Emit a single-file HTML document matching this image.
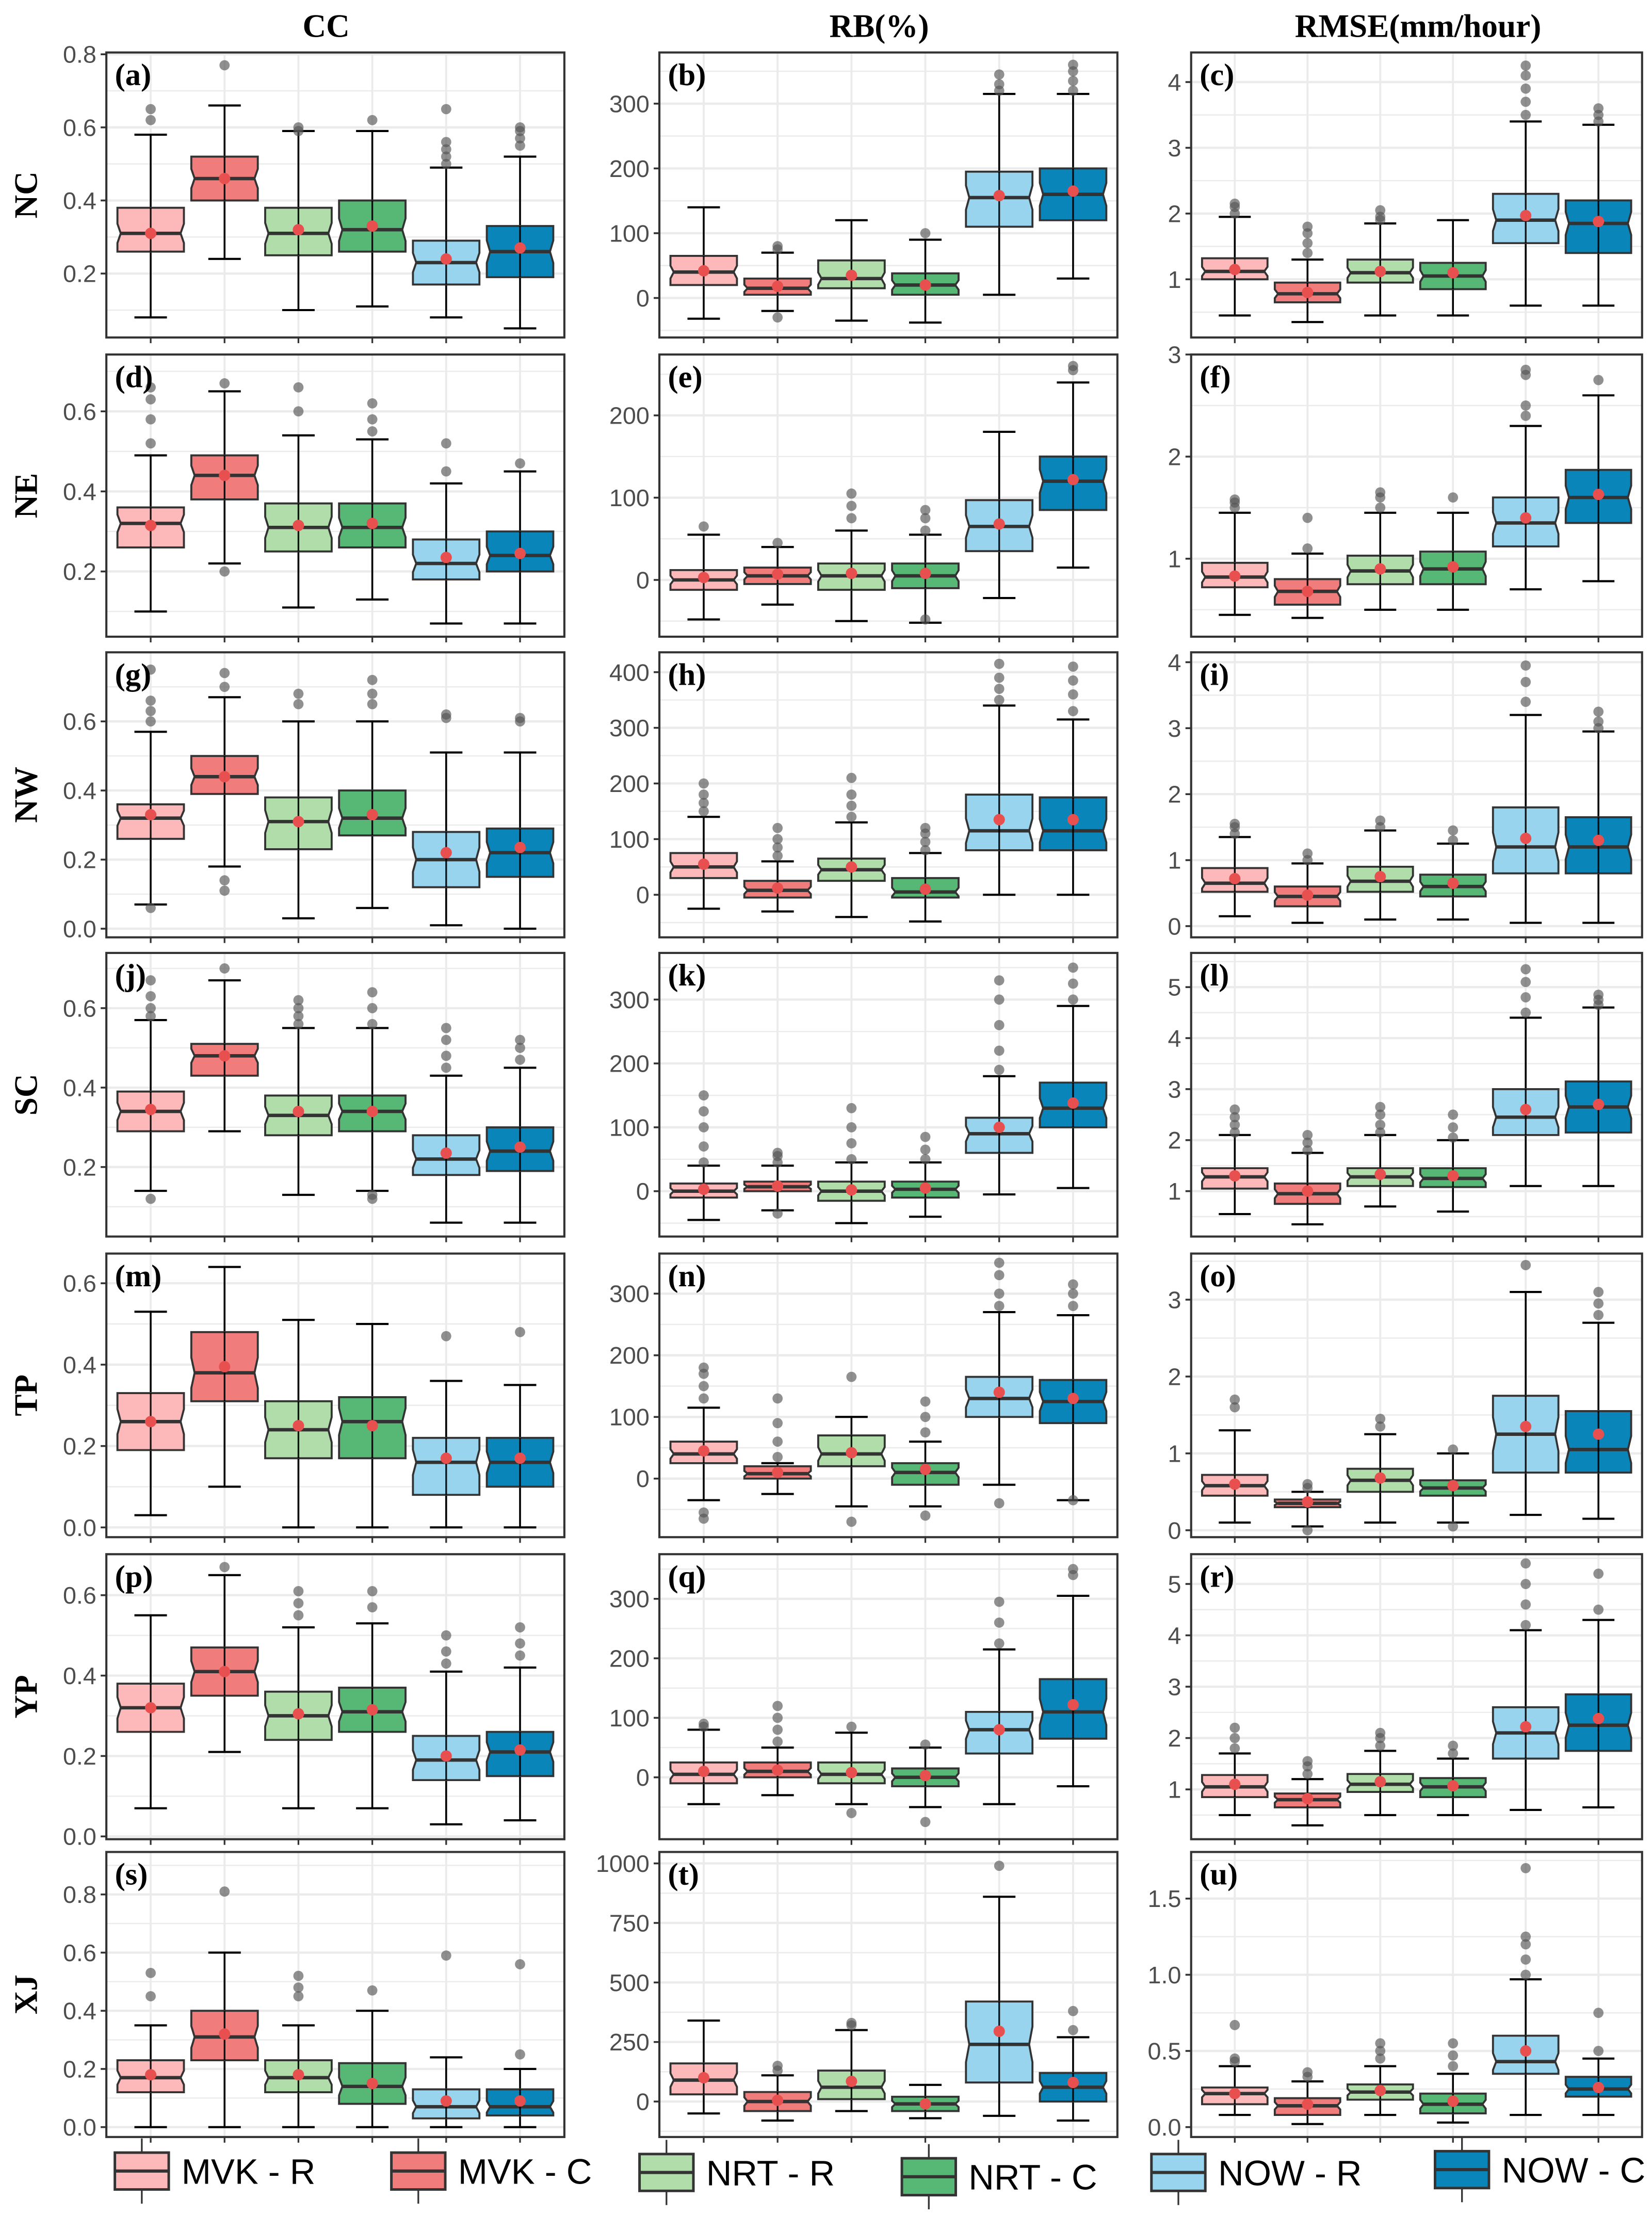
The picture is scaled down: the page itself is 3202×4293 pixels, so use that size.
<!DOCTYPE html>
<html><head><meta charset="utf-8"><style>
html,body{margin:0;padding:0;background:#fff;}
svg{display:block;}
</style></head><body>
<svg id="chart" xmlns="http://www.w3.org/2000/svg" width="3202" height="4293" viewBox="0 0 1165 1562" preserveAspectRatio="none">
<g id="panels"></g>
<g id="legend"></g>
</svg>
<script>
// ---- data ----
const categories = ["MVK - R","MVK - C","NRT - R","NRT - C","NOW - R","NOW - C"];
const colors = ["#FDB9B9","#F07C7C","#B0DDAA","#57B774","#98D4EE","#0A85BA"];
const regions = ["NC","NE","NW","SC","TP","YP","XJ"];
const metrics = ["CC","RB(%)","RMSE(mm/hour)"];
const panelLetters = ["a","b","c","d","e","f","g","h","i","j","k","l","m","n","o","p","q","r","s","t","u"];
// y domains per panel
const yDomains = [
 [0.025,0.805],[-61,379],[0.115,4.45],
 [0.037,0.742],[-69,274],[0.236,3.0],
 [-0.025,0.80],[-76.5,435.7],[-0.17,4.15],
 [0.025,0.739],[-71,373],[0.11,5.67],
 [-0.024,0.673],[-95,365],[-0.09,3.6],
 [-0.007,0.702],[-104,375],[0.03,5.58],
 [-0.034,0.946],[-149,1048],[-0.065,1.806]
];
const tickValues = [
 [0.2,0.4,0.6,0.8],[0,100,200,300],[1,2,3,4],
 [0.2,0.4,0.6],[0,100,200],[1,2,3],
 [0,0.2,0.4,0.6],[0,100,200,300,400],[0,1,2,3,4],
 [0.2,0.4,0.6],[0,100,200,300],[1,2,3,4,5],
 [0,0.2,0.4,0.6],[0,100,200,300],[0,1,2,3],
 [0,0.2,0.4,0.6],[0,100,200,300],[1,2,3,4,5],
 [0,0.2,0.4,0.6,0.8],[0,250,500,750,1000],[0,0.5,1.0,1.5]
];
const tickLabels = [
 ["0.2","0.4","0.6","0.8"],["0","100","200","300"],["1","2","3","4"],
 ["0.2","0.4","0.6"],["0","100","200"],["1","2","3"],
 ["0.0","0.2","0.4","0.6"],["0","100","200","300","400"],["0","1","2","3","4"],
 ["0.2","0.4","0.6"],["0","100","200","300"],["1","2","3","4","5"],
 ["0.0","0.2","0.4","0.6"],["0","100","200","300"],["0","1","2","3"],
 ["0.0","0.2","0.4","0.6"],["0","100","200","300"],["1","2","3","4","5"],
 ["0.0","0.2","0.4","0.6","0.8"],["0","250","500","750","1000"],["0.0","0.5","1.0","1.5"]
];
// [lowWhisker, q1, median, q3, highWhisker, mean] per category
const boxStats = [
 [[0.08,0.26,0.31,0.38,0.58,0.31],[0.24,0.40,0.46,0.52,0.66,0.46],[0.10,0.25,0.31,0.38,0.59,0.32],[0.11,0.26,0.32,0.40,0.59,0.33],[0.08,0.17,0.23,0.29,0.49,0.24],[0.05,0.19,0.26,0.33,0.52,0.27]],
 [[-32,20,40,65,140,42],[-20,5,15,30,70,18],[-35,15,30,58,120,35],[-38,5,20,38,90,20],[5,110,155,195,315,158],[30,120,160,200,315,165]],
 [[0.45,1.0,1.12,1.32,1.95,1.15],[0.35,0.65,0.78,0.95,1.3,0.8],[0.45,0.95,1.1,1.3,1.85,1.12],[0.45,0.85,1.05,1.25,1.9,1.1],[0.6,1.55,1.9,2.3,3.4,1.97],[0.6,1.4,1.85,2.2,3.35,1.88]],
 [[0.1,0.26,0.32,0.36,0.49,0.315],[0.22,0.38,0.44,0.49,0.65,0.44],[0.11,0.25,0.31,0.37,0.54,0.315],[0.13,0.26,0.31,0.37,0.53,0.32],[0.07,0.18,0.22,0.28,0.42,0.235],[0.07,0.2,0.24,0.3,0.45,0.245]],
 [[-48,-12,0,12,55,3],[-30,-5,5,15,40,7],[-50,-12,5,20,60,8],[-52,-10,5,20,55,8],[-22,35,65,97,180,68],[15,85,120,150,240,122]],
 [[0.45,0.72,0.82,0.96,1.45,0.83],[0.42,0.55,0.68,0.8,1.05,0.68],[0.5,0.75,0.88,1.03,1.45,0.9],[0.5,0.75,0.9,1.07,1.45,0.92],[0.7,1.12,1.35,1.6,2.3,1.4],[0.78,1.35,1.6,1.87,2.6,1.63]],
 [[0.07,0.26,0.32,0.36,0.57,0.33],[0.18,0.39,0.44,0.5,0.67,0.44],[0.03,0.23,0.31,0.38,0.6,0.31],[0.06,0.27,0.32,0.4,0.6,0.33],[0.01,0.12,0.2,0.28,0.51,0.22],[0.0,0.15,0.22,0.29,0.51,0.235]],
 [[-25,30,50,75,140,55],[-30,-5,8,25,60,12],[-40,25,45,65,130,50],[-48,-5,5,30,75,10],[0,80,115,180,340,135],[0,80,115,175,315,135]],
 [[0.15,0.52,0.65,0.88,1.35,0.72],[0.05,0.3,0.45,0.6,0.95,0.47],[0.1,0.52,0.68,0.9,1.45,0.75],[0.1,0.45,0.6,0.78,1.25,0.65],[0.05,0.8,1.2,1.8,3.2,1.33],[0.05,0.8,1.2,1.65,2.95,1.3]],
 [[0.14,0.29,0.34,0.39,0.57,0.345],[0.29,0.43,0.48,0.51,0.67,0.48],[0.13,0.28,0.33,0.38,0.55,0.34],[0.14,0.29,0.34,0.38,0.55,0.34],[0.06,0.18,0.22,0.28,0.43,0.235],[0.06,0.19,0.24,0.3,0.45,0.25]],
 [[-45,-10,0,12,40,3],[-30,0,7,15,40,8],[-50,-15,0,15,45,2],[-40,-10,3,15,45,5],[-5,60,90,115,180,100],[5,100,130,170,290,138]],
 [[0.55,1.05,1.28,1.45,2.1,1.3],[0.35,0.75,0.95,1.15,1.75,1.0],[0.7,1.1,1.28,1.45,2.1,1.33],[0.6,1.08,1.25,1.45,2.0,1.3],[1.1,2.1,2.45,3.0,4.4,2.6],[1.1,2.15,2.65,3.15,4.6,2.7]],
 [[0.03,0.19,0.26,0.33,0.53,0.26],[0.1,0.31,0.38,0.48,0.64,0.395],[0.0,0.17,0.24,0.31,0.51,0.25],[0.0,0.17,0.26,0.32,0.5,0.25],[0.0,0.08,0.16,0.22,0.36,0.17],[0.0,0.1,0.16,0.22,0.35,0.17]],
 [[-35,25,40,60,115,45],[-25,0,8,20,25,10],[-45,20,40,70,100,42],[-45,-10,10,25,60,15],[-10,100,130,165,270,140],[-35,90,125,160,265,130]],
 [[0.1,0.45,0.58,0.72,1.3,0.6],[0.05,0.3,0.35,0.4,0.5,0.37],[0.1,0.5,0.65,0.8,1.25,0.68],[0.1,0.45,0.55,0.65,1.0,0.58],[0.2,0.75,1.25,1.75,3.1,1.35],[0.15,0.75,1.05,1.55,2.7,1.25]],
 [[0.07,0.26,0.32,0.38,0.55,0.32],[0.21,0.35,0.41,0.47,0.65,0.41],[0.07,0.24,0.3,0.36,0.52,0.305],[0.07,0.26,0.31,0.37,0.53,0.315],[0.03,0.14,0.19,0.25,0.41,0.2],[0.04,0.15,0.21,0.26,0.42,0.215]],
 [[-45,-10,5,25,80,10],[-30,0,10,25,50,12],[-45,-10,5,25,75,8],[-50,-15,0,15,50,3],[-45,40,80,110,215,80],[-15,65,110,165,305,122]],
 [[0.5,0.85,1.05,1.28,1.7,1.1],[0.3,0.65,0.8,0.92,1.2,0.82],[0.5,0.95,1.1,1.3,1.75,1.15],[0.5,0.85,1.05,1.22,1.6,1.07],[0.6,1.6,2.1,2.6,4.1,2.22],[0.65,1.75,2.25,2.85,4.3,2.38]],
 [[0.0,0.12,0.17,0.23,0.35,0.18],[0.0,0.23,0.31,0.4,0.6,0.32],[0.0,0.12,0.17,0.23,0.35,0.18],[0.0,0.08,0.14,0.22,0.4,0.15],[0.0,0.03,0.07,0.13,0.24,0.09],[0.0,0.04,0.07,0.13,0.2,0.09]],
 [[-50,30,90,160,340,100],[-80,-40,0,40,110,5],[-40,10,60,130,300,85],[-70,-40,-10,20,70,-10],[-60,80,240,420,860,295],[-80,0,60,120,270,80]],
 [[0.08,0.15,0.22,0.26,0.4,0.22],[0.02,0.08,0.14,0.19,0.3,0.15],[0.08,0.18,0.23,0.28,0.4,0.24],[0.03,0.09,0.15,0.22,0.35,0.17],[0.08,0.35,0.43,0.6,0.97,0.5],[0.08,0.2,0.25,0.33,0.45,0.26]]
];
// outliers per panel per category
const outliers = [
 [[0.62,0.65],[0.77],[0.6,0.59],[0.62],[0.5,0.52,0.54,0.56,0.65],[0.55,0.57,0.59,0.6]],
 [[],[75,80,-30],[],[100],[320,330,345],[320,335,350,360]],
 [[2.0,2.1,2.15],[1.4,1.55,1.7,1.8],[1.9,1.95,2.05],[],[3.5,3.7,3.9,4.1,4.25],[3.4,3.5,3.6]],
 [[0.52,0.58,0.63,0.66],[0.2,0.67],[0.6,0.66],[0.55,0.58,0.62],[0.45,0.52],[0.47]],
 [[65],[45],[75,90,105],[60,75,85,-48],[],[255,260]],
 [[1.5,1.55,1.58],[1.1,1.4],[1.5,1.6,1.65],[1.6],[2.4,2.5,2.8,2.85],[2.75]],
 [[0.6,0.63,0.66,0.06,0.75],[0.11,0.14,0.7,0.74],[0.65,0.68],[0.65,0.68,0.72],[0.61,0.62],[0.6,0.61]],
 [[150,165,180,200],[70,85,100,120],[140,160,180,210],[80,95,110,120],[350,370,390,415],[330,360,385,410]],
 [[1.4,1.5,1.55],[1.0,1.1],[1.5,1.6],[1.3,1.45],[3.4,3.7,3.95],[3.0,3.1,3.25]],
 [[0.58,0.6,0.63,0.67,0.12],[0.7],[0.56,0.58,0.6,0.62],[0.56,0.6,0.64,0.12,0.13],[0.45,0.48,0.52,0.55],[0.47,0.5,0.52]],
 [[45,70,100,125,150],[45,55,60,-35],[50,75,100,130],[50,65,85],[190,220,260,300,330],[300,325,350]],
 [[2.15,2.3,2.45,2.6],[1.8,1.95,2.1],[2.15,2.3,2.5,2.65],[2.05,2.25,2.5],[4.5,4.8,5.1,5.35],[4.65,4.75,4.85]],
 [[],[],[],[],[0.47],[0.48]],
 [[130,150,170,180,-55,-65],[35,60,90,130],[165,-70],[75,100,125,-60],[280,300,330,350,-40],[280,300,315,-35]],
 [[1.6,1.7],[0.55,0.6,0.0],[1.35,1.45],[1.05,0.05],[3.45],[2.8,2.95,3.1]],
 [[],[0.67],[0.55,0.58,0.61],[0.57,0.61],[0.43,0.46,0.5],[0.45,0.48,0.52]],
 [[85,90],[60,80,100,120],[85,-60],[55,-75],[225,260,295],[340,350]],
 [[1.8,2.0,2.2],[1.3,1.45,1.55],[1.85,2.0,2.1],[1.7,1.85],[4.2,4.6,5.0,5.4],[4.5,5.2]],
 [[0.45,0.53],[0.81],[0.45,0.48,0.52],[0.47],[0.59],[0.25,0.56]],
 [[],[130,150],[320,330],[],[990],[300,380]],
 [[0.43,0.45,0.67],[0.33,0.36],[0.45,0.5,0.55],[0.4,0.47,0.55],[1.0,1.1,1.2,1.25,1.7],[0.5,0.75]]
];

// ---- layout ----
const NS="http://www.w3.org/2000/svg";
const colX=[{x:75,w:323},{x:465,w:323},{x:840,w:318}];
const rowY=[[37,238],[250,449],[460,661],[672,872],[884,1084],[1096,1297],[1306,1507]];
function mk(tag,attrs,parent){const e=document.createElementNS(NS,tag);for(const k in attrs)e.setAttribute(k,attrs[k]);if(parent)parent.appendChild(e);return e;}
const panelsG=document.getElementById('panels');
const serif='"Liberation Serif", serif';
const sans='"Liberation Sans", sans-serif';

// column titles
metrics.forEach((m,c)=>{
  const cx=[230,620,1000][c];
  const t=mk('text',{x:cx,y:26,'text-anchor':'middle','font-family':serif,'font-weight':'bold','font-size':23,fill:'#000'},panelsG);
  
  
  t.textContent=m;
});
// row titles
regions.forEach((r,i)=>{
  const cy=(rowY[i][0]+rowY[i][1])/2;
  const t=mk('text',{x:0,y:0,transform:`translate(26,${cy}) rotate(-90)`,'text-anchor':'middle','font-family':serif,'font-weight':'bold','font-size':23,fill:'#000'},panelsG);
  
  
  t.textContent=r;
});

for(let p=0;p<21;p++){
  const r=Math.floor(p/3),c=p%3;
  const L=colX[c].x,W=colX[c].w,T=rowY[r][0],B=rowY[r][1];
  const d=yDomains[p];
  const ys=v=>B-(v-d[0])/(d[1]-d[0])*(B-T);
  const unit=W/6.2;
  const xs=k=>L+(k+0.6)*unit;
  const g=mk('g',{},panelsG);
  
  
  mk('rect',{x:L,y:T,width:W,height:B-T,fill:'#fff'},g);
  // grid
  const tv=tickValues[p];
  const step=tv[1]-tv[0];
  for(let v=tv[0]-step/2;v<=d[1];v+=step/2){
    if(v<d[0])continue;
    const isMajor=tv.some(t=>Math.abs(t-v)<1e-9);
    mk('line',{x1:L,x2:L+W,y1:ys(v),y2:ys(v),stroke:'#EBEBEB','stroke-width':isMajor?1.6:0.9},g);
  }
  for(let k=0;k<6;k++) mk('line',{x1:xs(k),x2:xs(k),y1:T,y2:B,stroke:'#EBEBEB','stroke-width':1.4},g);
  // ticks + labels
  tv.forEach((v,i)=>{
    const y=ys(v);
    const tk=mk('line',{x1:L-4,x2:L,y1:y,y2:y,stroke:'#333','stroke-width':1.3},g);
    
    
    const tl=mk('text',{x:L-7,y:y+6,'text-anchor':'end','font-family':sans,'font-size':17,fill:'#4D4D4D'},g);
    
    
    tl.textContent=tickLabels[p][i];
  });
  for(let k=0;k<6;k++) mk('line',{x1:xs(k),x2:xs(k),y1:B,y2:B+4,stroke:'#333','stroke-width':1.2},g);
  // boxes
  boxStats[p].forEach((s,k)=>{
    const [lo,q1,md,q3,hi,mn]=s;
    const cx=xs(k),hw=0.45*unit,cw=0.22*unit;
    const bg=mk('g',{},g);
    
    
    mk('line',{x1:cx,x2:cx,y1:ys(hi),y2:ys(q3),stroke:'#000','stroke-width':1.3},bg);
    mk('line',{x1:cx,x2:cx,y1:ys(q1),y2:ys(lo),stroke:'#000','stroke-width':1.3},bg);
    mk('line',{x1:cx-cw,x2:cx+cw,y1:ys(hi),y2:ys(hi),stroke:'#000','stroke-width':1.5},bg);
    mk('line',{x1:cx-cw,x2:cx+cw,y1:ys(lo),y2:ys(lo),stroke:'#000','stroke-width':1.5},bg);
    const nt=Math.min((q3-q1)*0.22,(q3-md)*0.9,(md-q1)*0.9);
    const nw=hw*0.1;
    const Lb=cx-hw,Rb=cx+hw;
    const pts=[[Lb,ys(q3)],[Rb,ys(q3)],[Rb,ys(md+nt)],[Rb-nw,ys(md)],[Rb,ys(md-nt)],[Rb,ys(q1)],[Lb,ys(q1)],[Lb,ys(md-nt)],[Lb+nw,ys(md)],[Lb,ys(md+nt)]];
    mk('polygon',{points:pts.map(q=>q.join(',')).join(' '),fill:colors[k],stroke:'#333','stroke-width':1.4},bg);
    mk('line',{x1:Lb+nw,x2:Rb-nw,y1:ys(md),y2:ys(md),stroke:'#333','stroke-width':2.4},bg);
    mk('line',{x1:cx,x2:cx,y1:ys(q3),y2:ys(q1),stroke:'#000','stroke-width':1.2,opacity:0.9},bg);
    outliers[p][k].forEach(v=>{
      const o=mk('circle',{cx:cx,cy:ys(v),r:3.6,fill:'#555','fill-opacity':0.65},bg);
      
      
    });
    const m=mk('circle',{cx:cx,cy:ys(mn),r:4,fill:'#E8504F'},bg);
    
    
  });
  mk('rect',{x:L,y:T,width:W,height:B-T,fill:'none',stroke:'#333','stroke-width':1.5},g);
  const lab=mk('text',{x:L+6,y:T+23,'font-family':serif,'font-weight':'bold','font-size':22,fill:'#000'},g);
  
  
  lab.textContent='('+panelLetters[p]+')';
}

// legend
const lg=document.getElementById('legend');
const keyX=[81,276,451,636,812,1012];
const keyTop=[1518,1518,1519,1522,1519,1517];
categories.forEach((c,k)=>{
  const g=mk('g',{},lg);
  
  
  const x=keyX[k],y=keyTop[k],w=38,h=26;
  mk('line',{x1:x+w/2,x2:x+w/2,y1:y-10,y2:y+h+10,stroke:'#333','stroke-width':1.2},g);
  mk('rect',{x:x,y:y,width:w,height:h,fill:colors[k],stroke:'#333','stroke-width':1.8},g);
  mk('line',{x1:x,x2:x+w,y1:y+h/2,y2:y+h/2,stroke:'#333','stroke-width':2.2},g);
  const t=mk('text',{x:x+w+9,y:y+h/2+9,'font-family':sans,'font-size':25,fill:'#000'},g);
  t.textContent=c;
});
</script>
</body></html>
